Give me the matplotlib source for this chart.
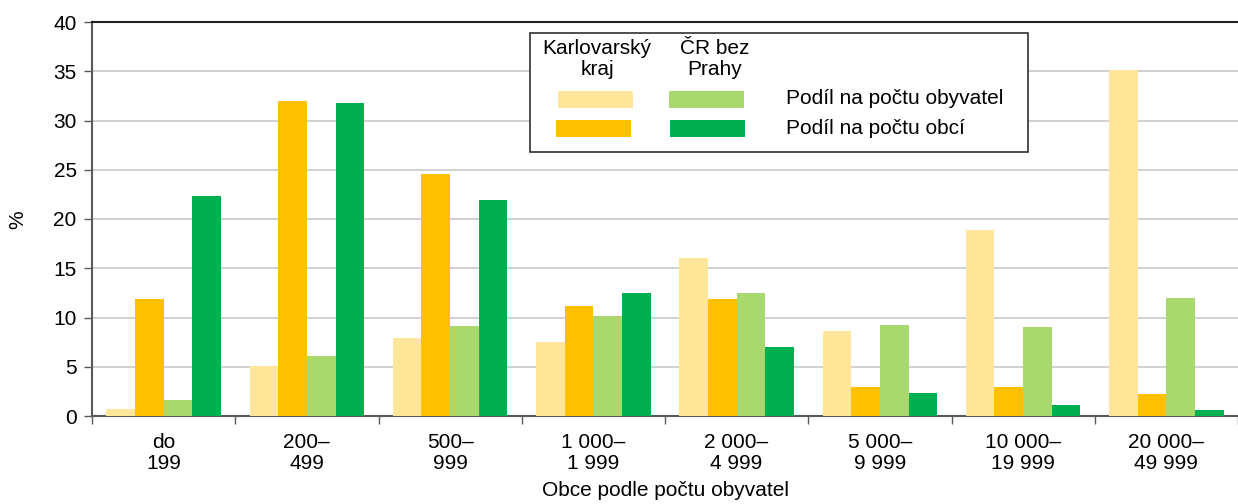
import matplotlib
matplotlib.use("Agg")
import matplotlib.pyplot as plt
from matplotlib.patches import Rectangle
import numpy as np

plt.rcParams['font.family'] = ['Liberation Sans', 'DejaVu Sans']

categories = ['do\n199', '200–\n499', '500–\n999', '1 000–\n1 999', '2 000–\n4 999',
              '5 000–\n9 999', '10 000–\n19 999', '20 000–\n49 999']
kk_obyv = [0.7, 5.1, 7.9, 7.5, 16.0, 8.6, 18.9, 35.1]
kk_obci = [11.9, 32.0, 24.6, 11.2, 11.9, 2.9, 2.9, 2.2]
cr_obyv = [1.6, 6.1, 9.1, 10.2, 12.5, 9.2, 9.0, 12.0]
cr_obci = [22.3, 31.8, 21.9, 12.5, 7.0, 2.3, 1.1, 0.6]

C_KK_OBYV = '#FFE699'
C_KK_OBCI = '#FFC000'
C_CR_OBYV = '#A9D86E'
C_CR_OBCI = '#00B050'
AXIS = '#595959'
FS = 15

W, H = 1238, 504
fig = plt.figure(figsize=(W / 100, H / 100), dpi=100)
ax = fig.add_axes([92 / W, (H - 416) / H, (W - 92) / W, (416 - 22) / H])

x = np.arange(len(categories))
bw = 0.2
series = [(kk_obyv, C_KK_OBYV), (kk_obci, C_KK_OBCI), (cr_obyv, C_CR_OBYV), (cr_obci, C_CR_OBCI)]
for i, (vals, col) in enumerate(series):
    ax.bar(x + (i - 1.5) * bw, vals, width=bw, color=col, zorder=3)

ax.set_ylim(0, 40)
ax.set_yticks(range(0, 41, 5))
ax.set_xlim(-0.5, -0.5 + (W - 92) / 144.4)
ax.yaxis.grid(True, color='#C8C8C8', linewidth=1.2, zorder=0)
ax.set_axisbelow(True)

# category labels centred, tick marks on the boundaries
ax.set_xticks(x)
ax.set_xticklabels(categories, fontsize=FS, linespacing=1.15)
ax.tick_params(axis='x', length=0, pad=12)
ax.set_xticks(np.arange(-0.5, 8, 1), minor=True)
ax.tick_params(axis='x', which='minor', length=6, color=AXIS, width=1)
ax.tick_params(axis='y', labelsize=FS, length=6, color=AXIS, width=1, pad=5)

for s in ['left', 'bottom']:
    ax.spines[s].set_color(AXIS)
    ax.spines[s].set_linewidth(1.5)
ax.spines['top'].set_color('#202020')
ax.spines['top'].set_linewidth(1.5)
ax.spines['right'].set_visible(False)

ax.set_xlabel('Obce podle počtu obyvatel', fontsize=FS, labelpad=6)


def px(xp, yp):
    return xp / W, (H - yp) / H


fig.text(*px(18, 220), '%', rotation=90, ha='center', va='center', fontsize=FS)

# legend box drawn by hand
x0, y0 = px(530, 152)
fig.patches.append(Rectangle((x0, y0), (1028 - 530) / W, (152 - 33) / H,
                             transform=fig.transFigure, facecolor='white',
                             edgecolor='#303030', linewidth=1.2, zorder=5))
fig.text(*px(597, 59), 'Karlovarský\nkraj', ha='center', va='center', fontsize=FS,
         linespacing=1.1, zorder=6)
fig.text(*px(715, 59), 'ČR bez\nPrahy', ha='center', va='center', fontsize=FS,
         linespacing=1.1, zorder=6)
for (xl, yt, col) in [(558, 91, C_KK_OBYV), (556, 120, C_KK_OBCI),
                      (669, 91, C_CR_OBYV), (670, 120, C_CR_OBCI)]:
    fx, fy = px(xl, yt + 17)
    fig.patches.append(Rectangle((fx, fy), 75 / W, 17 / H, transform=fig.transFigure,
                                 facecolor=col, edgecolor='none', zorder=6))
fig.text(*px(786, 98), 'Podíl na počtu obyvatel', ha='left', va='center', fontsize=FS, zorder=6)
fig.text(*px(786, 128), 'Podíl na počtu obcí', ha='left', va='center', fontsize=FS, zorder=6)

fig.savefig('out.png', dpi=100, facecolor='white')
